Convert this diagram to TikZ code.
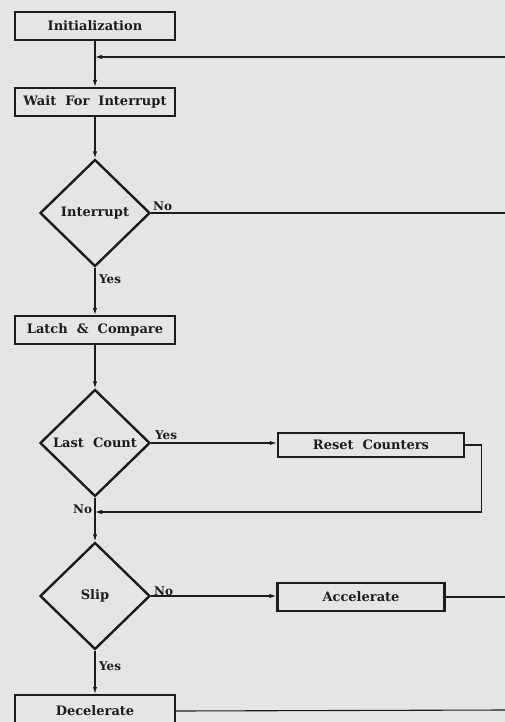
\documentclass[tikz,border=0pt]{standalone}
\usepackage{fontspec}
\setmainfont{DejaVu Serif}
\newfontfamily\boxfont[WordSpace=2.0]{DejaVu Serif Bold}
\usetikzlibrary{arrows.meta,shapes.geometric}
\definecolor{paper}{RGB}{229,229,227}
\definecolor{ink}{RGB}{28,28,28}
\begin{document}
\begin{tikzpicture}[x=1pt,y=-1pt,
  lbl/.style={font=\boxfont\fontsize{13}{15}\selectfont, text=ink},
  box/.style={lbl, draw=ink, line width=2.4pt, fill=paper, minimum height=28pt, inner sep=0pt},
  dia/.style={lbl, diamond, draw=ink, line width=2.4pt, fill=paper, minimum width=110pt, minimum height=107pt, inner sep=0pt},
  conn/.style={draw=ink, line width=1.1pt},
  arr/.style={conn, -{Latex[length=7pt,width=4.5pt]}},
  tag/.style={font=\boxfont\fontsize{12}{14}\selectfont, text=ink, inner sep=0pt}]
\fill[paper] (0,0) rectangle (505,722);
\useasboundingbox (0,0) rectangle (505,722);
\clip (0,0) rectangle (505,722);
% nodes
\node[box, minimum width=160pt] (init) at (95,26) {Initialization};
\node[box, minimum width=160pt] (wait) at (95,102) {Wait For Interrupt};
\node[dia] (intr) at (95,213) {Interrupt};
\node[box, minimum width=160pt] (latch) at (95,330) {Latch \& Compare};
\node[dia] (last) at (95,443) {Last Count};
\node[box, minimum width=186pt, minimum height=24pt] (reset) at (371,445) {Reset Counters};
\node[dia] (slip) at (95,596) {Slip};
\node[box, minimum width=167pt] (acc) at (361,597) {Accelerate};
\node[box, minimum width=160pt, minimum height=32pt] (dec) at (95,711) {Decelerate};
% free ends
\coordinate (j1) at (95,57);
\coordinate (r1) at (505,57);
\coordinate (r2) at (505,213);
\coordinate (j2) at (95,512);
\coordinate (r3) at (505,597);
\coordinate (r4) at (505,710);
% connectors
\draw[arr] (init) -- (wait);
\draw[arr] (r1) -- (j1);
\draw[arr] (wait) -- (intr);
\draw[conn] (intr.east) -- (r2);
\draw[arr] (intr) -- (latch);
\draw[arr] (latch) -- (last);
\draw[arr] (last.east) -- (last.east -| reset.west);
\draw[arr] (reset.east) -- ++(16,0) |- (j2);
\draw[arr] (last) -- (slip);
\draw[arr] (slip.east) -- (slip.east -| acc.west);
\draw[conn] (acc.east) -- (r3);
\draw[arr] (slip) -- (dec);
\draw[conn] (dec.east) -- (r4);
% labels
\node[tag, anchor=base west] (tno1) at (153,210) {No};
\node[tag, anchor=base west] (tyes1) at (99,283) {Yes};
\node[tag, anchor=base west] (tyes2) at (155,439) {Yes};
\node[tag, anchor=base west] (tno2) at (73,513) {No};
\node[tag, anchor=base west] (tno3) at (154,595) {No};
\node[tag, anchor=base west] (tyes3) at (99,670) {Yes};
\end{tikzpicture}
\end{document}
